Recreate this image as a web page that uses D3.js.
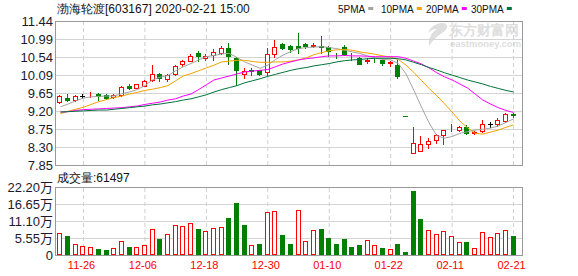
<!DOCTYPE html>
<html lang="zh">
<head>
<meta charset="UTF-8">
<title>渤海轮渡 K线</title>
<script src="https://cdn.jsdelivr.net/npm/d3@7"></script>
<style>
    body { margin: 0; background: #fff; }
    svg { display: block; }
    text { font-family: "Liberation Sans", Arial, sans-serif; }
    .grid line { stroke: #d4d4d4; }
    .grid path, .labels path, .vgrid path { display: none; }
    .vgrid line { stroke: #cfcfcf; stroke-dasharray: 4,3; }
</style>
</head>
<body>
<script>
const width = 578
const height = 276

// trading days shown
const dates = ["11-21","11-22","11-25","11-26","11-27","11-28","11-29",
    "12-02","12-03","12-04","12-05","12-06","12-09","12-10","12-11","12-12","12-13",
    "12-16","12-17","12-18","12-19","12-20","12-23","12-24","12-25","12-26","12-27","12-30","12-31",
    "01-02","01-03","01-06","01-07","01-08","01-09","01-10","01-13","01-14","01-15","01-16","01-17",
    "01-20","01-21","01-22","01-23",
    "02-03","02-04","02-05","02-06","02-07","02-10","02-11","02-12","02-13","02-14",
    "02-17","02-18","02-19","02-20","02-21"]

const open  = [9.41,9.53,9.48,9.57,9.57,9.63,9.59,9.55,9.59,9.82,9.78,9.82,9.97,10.12,9.99,10.11,10.38,10.45,10.65,10.51,
    10.59,10.65,10.76,10.51,10.13,10.23,10.22,10.16,10.61,10.86,10.82,10.82,10.87,10.81,10.82,10.78,10.64,10.78,10.62,10.53,
    10.45,10.50,10.47,10.39,10.34,9.06,8.15,8.19,8.38,8.47,8.59,8.77,8.72,8.80,8.66,8.69,8.86,8.86,8.94,9.11]
const high  = [9.60,9.63,9.59,9.63,9.67,9.64,9.63,9.62,9.82,9.87,9.88,9.96,10.34,10.15,10.12,10.34,10.48,10.62,10.70,10.61,
    10.74,10.82,10.88,10.55,10.27,10.26,10.23,10.77,10.97,10.90,10.83,11.15,10.90,10.90,11.07,10.82,10.65,10.85,10.63,10.55,
    10.51,10.52,10.48,10.44,10.47,9.06,8.80,8.57,8.52,8.63,8.73,8.86,8.82,8.84,8.69,8.97,8.92,9.01,9.15,9.15]
const low   = [9.40,9.44,9.45,9.53,9.55,9.48,9.50,9.53,9.58,9.74,9.76,9.81,9.94,9.94,9.95,10.09,10.32,10.44,10.45,10.48,
    10.48,10.62,10.37,9.84,10.02,10.09,10.09,10.09,10.55,10.73,10.66,10.63,10.77,10.80,10.63,10.57,10.51,10.59,10.48,10.37,
    10.40,10.42,10.34,10.32,10.02,9.06,8.15,8.19,8.27,8.40,8.38,8.70,8.70,8.63,8.63,8.67,8.80,8.82,8.92,9.05]
const close = [9.57,9.47,9.57,9.57,9.58,9.56,9.53,9.59,9.80,9.78,9.86,9.94,10.11,10.02,10.09,10.32,10.44,10.57,10.56,10.57,
    10.67,10.77,10.57,10.22,10.19,10.20,10.12,10.61,10.78,10.77,10.74,10.77,10.82,10.84,10.80,10.68,10.63,10.62,10.61,10.38,
    10.48,10.49,10.40,10.41,10.07,9.06,8.41,8.38,8.44,8.59,8.73,8.76,8.80,8.65,8.67,8.86,8.86,8.97,9.13,9.10]
const prevClose = 9.45

// 成交量 (手)
const volume = [71000,62000,35000,28000,25000,20000,15000,22000,47000,26000,25000,32000,84000,52000,68000,97000,94000,103000,85000,78000,
    87000,91000,122000,170000,98000,33000,36000,139000,143000,65000,36000,147000,46000,82000,85000,57000,36000,52000,27000,33000,
    48000,33000,23000,19000,36000,10000,210000,119000,81000,68000,77000,62000,41000,42000,22000,74000,59000,71000,81000,61497]

const ma5  = [9.30,9.37,9.45,9.52,9.55,9.56,9.57,9.57,9.63,9.67,9.73,9.83,9.97,10.04,10.08,10.20,10.30,10.38,10.47,10.55,
    10.58,10.62,10.63,10.53,10.42,10.34,10.26,10.34,10.48,10.59,10.68,10.75,10.78,10.79,10.80,10.78,10.75,10.71,10.67,10.63,
    10.57,10.52,10.48,10.47,10.38,10.12,9.72,9.30,8.90,8.58,8.52,8.56,8.64,8.68,8.72,8.74,8.77,8.82,8.91,9.00]
const ma10 = [9.13,9.19,9.24,9.29,9.36,9.43,9.48,9.53,9.57,9.62,9.66,9.71,9.74,9.78,9.83,9.95,10.07,10.13,10.20,10.27,
    10.34,10.42,10.44,10.46,10.46,10.43,10.41,10.41,10.42,10.42,10.44,10.47,10.52,10.60,10.65,10.70,10.72,10.73,10.71,10.67,
    10.64,10.61,10.57,10.54,10.48,10.34,10.16,9.96,9.76,9.58,9.38,9.17,8.95,8.78,8.64,8.62,8.67,8.72,8.79,8.85]
const ma20 = [9.17,9.18,9.21,9.23,9.24,9.25,9.26,9.27,9.28,9.30,9.32,9.36,9.39,9.42,9.47,9.50,9.57,9.62,9.73,9.85,
    9.97,10.02,10.07,10.12,10.17,10.19,10.21,10.23,10.30,10.37,10.42,10.47,10.50,10.52,10.55,10.57,10.57,10.58,10.57,10.57,
    10.56,10.55,10.55,10.55,10.55,10.51,10.44,10.37,10.27,10.15,10.05,9.97,9.87,9.77,9.62,9.47,9.37,9.28,9.21,9.16]
const ma30 = [9.17,9.18,9.19,9.20,9.21,9.22,9.22,9.24,9.26,9.28,9.30,9.32,9.35,9.37,9.40,9.43,9.47,9.50,9.55,9.60,
    9.67,9.73,9.78,9.83,9.90,9.95,10.00,10.06,10.11,10.16,10.21,10.25,10.28,10.32,10.35,10.38,10.42,10.45,10.47,10.48,
    10.50,10.51,10.51,10.51,10.50,10.47,10.41,10.35,10.28,10.22,10.15,10.09,10.03,9.97,9.92,9.87,9.81,9.76,9.71,9.67]

const priceLabels = ["7.85","8.30","8.75","9.20","9.65","10.09","10.54","10.99","11.44"]
const priceRange = [7.85, 11.44]
const volLabels = ["0","5.55万","11.10万","16.65万","22.20万"]
const volMax = 222000
const dateTicks = ["11-26","12-06","12-18","12-30","01-10","01-22","02-11","02-21"]
const maNames = ["5PMA","10PMA","20PMA","30PMA"]

const UP = "#ff0000", DOWN = "#008000", FLAT = "#000000"
const maColors = ["#a3a3a3","#f4a300","#ff00ff","#00733a"]

const rows = dates.map((d,i)=>({
    date: d, o: open[i], h: high[i], l: low[i], c: close[i], v: volume[i],
    pc: i ? close[i-1] : prevClose
}))

const left = 55, right = 522
const pTop = 21, pBottom = 165
const vTop = 187, vBottom = 255

const svg = d3.select("body").append("svg")
    .attr("width", width).attr("height", height)

const x = d3.scaleBand().domain(dates)
    .range([56.6, 517.4]).paddingInner(0.35).paddingOuter(0.175)
const cx = d => x(d) + x.bandwidth()/2
const y = d3.scaleLinear().domain(priceRange).range([pBottom, pTop])
const vy = d3.scaleLinear().domain([0, volMax]).range([vBottom, vTop])

const priceVals = d3.range(priceLabels.length).map(i => priceRange[0] + i*(priceRange[1]-priceRange[0])/(priceLabels.length-1))
const volVals = d3.range(volLabels.length).map(i => i*volMax/(volLabels.length-1))

// watermark
const wm = svg.append("g").attr("fill", "#dedede")
wm.append("path")
    .attr("d", "M441,23 C449,22 449,29 442,33 C437,36 433,40 429,46 C428,39 431,33 437,29 C433,29 430,31 428,33 C430,27 435,24 441,23 Z")
wm.append("text").attr("x", 449).attr("y", 35)
    .attr("font-family", "Noto Sans CJK SC").attr("font-size", 13.5).attr("font-weight", "bold")
    .text("东方财富网")
wm.append("text").attr("x", 450).attr("y", 47)
    .attr("font-size", 9.5).attr("font-weight", "bold")
    .text("eastmoney.com")

// grids
svg.append("g").attr("class","grid").attr("transform",`translate(${left},0)`)
    .call(d3.axisLeft(y).tickValues(priceVals).tickSize(-(right-left)).tickFormat(""))
svg.append("g").attr("class","grid").attr("transform",`translate(${left},0)`)
    .call(d3.axisLeft(vy).tickValues(volVals).tickSize(-(right-left)).tickFormat(""))
svg.append("g").attr("class","vgrid").attr("transform",`translate(0,${pBottom})`)
    .call(d3.axisBottom(x).tickValues(dateTicks).tickSize(-(pBottom-pTop)).tickFormat(""))
svg.append("g").attr("class","vgrid").attr("transform",`translate(0,${vBottom})`)
    .call(d3.axisBottom(x).tickValues(dateTicks).tickSize(-(vBottom-vTop)).tickFormat(""))

// axis labels
const yAxis = svg.append("g").attr("class","labels").attr("transform",`translate(${left},0)`)
    .call(d3.axisLeft(y).tickValues(priceVals).tickSize(0).tickPadding(2).tickFormat((d,i)=>priceLabels[i]))
const vAxis = svg.append("g").attr("class","labels").attr("transform",`translate(${left},0)`)
    .call(d3.axisLeft(vy).tickValues(volVals).tickSize(0).tickPadding(2).tickFormat((d,i)=>volLabels[i]))
;[yAxis, vAxis].forEach(g => g.selectAll("text")
    .attr("font-size", 13).attr("fill", "#1a1a2e").style("font-family", "Liberation Sans, Arial, Noto Sans CJK SC"))

const xAxis = svg.append("g").attr("class","labels").attr("transform",`translate(-2,${vBottom})`)
    .call(d3.axisBottom(x).tickValues(dateTicks).tickSize(0).tickPadding(6))
xAxis.selectAll("text").attr("font-size", 11).attr("fill", "#ff0000")

// panel borders
svg.append("rect").attr("x", left+0.5).attr("y", pTop+0.5)
    .attr("width", right-left).attr("height", pBottom-pTop)
    .attr("fill","none").attr("stroke","#999")
svg.append("rect").attr("x", left+0.5).attr("y", vTop+0.5)
    .attr("width", right-left).attr("height", vBottom-vTop)
    .attr("fill","none").attr("stroke","#999")

const candleColor = r => r.c > r.o ? UP : r.c < r.o ? DOWN : (r.c > r.pc ? UP : r.c < r.pc ? DOWN : FLAT)
const volColor = r => r.c >= r.pc ? UP : DOWN
const px = r => Math.floor(cx(r.date) - 2.5)   // left pixel of body
const snap = v => Math.round(v) + 0.5

// candles
const gC = svg.append("g")
gC.selectAll(".wick").data(rows).enter().append("line")
    .attr("x1", r => px(r)+2.5).attr("x2", r => px(r)+2.5)
    .attr("y1", r => Math.round(y(r.h))).attr("y2", r => Math.round(y(r.l))+1)
    .attr("stroke", candleColor)
gC.selectAll(".body").data(rows.filter(r => r.c !== r.o)).enter().append("rect")
    .attr("x", r => px(r)+0.5).attr("width", 4)
    .attr("y", r => snap(y(Math.max(r.o,r.c))))
    .attr("height", r => Math.max(0, Math.round(y(Math.min(r.o,r.c))) - Math.round(y(Math.max(r.o,r.c)))))
    .attr("fill", r => r.c > r.o ? "#fff" : DOWN)
    .attr("stroke", candleColor)
gC.selectAll(".flat").data(rows.filter(r => r.c === r.o)).enter().append("line")
    .attr("x1", r => px(r)).attr("x2", r => px(r)+5)
    .attr("y1", r => snap(y(r.c))).attr("y2", r => snap(y(r.c)))
    .attr("stroke", candleColor)

// moving averages
const line = d3.line().x((d,i) => cx(dates[i])).y(d => y(d))
;[ma5, ma10, ma20, ma30].forEach((s,k) => {
    svg.append("path").datum(s).attr("d", line)
        .attr("fill","none").attr("stroke", maColors[k]).attr("stroke-width", 1)
})

// volume bars
svg.append("g").selectAll("rect").data(rows).enter().append("rect")
    .attr("x", r => px(r)+0.5).attr("width", 4)
    .attr("y", r => snap(vy(r.v)))
    .attr("height", r => vBottom - Math.round(vy(r.v)) - 1)
    .attr("fill", r => volColor(r) === UP ? "#fff" : DOWN)
    .attr("stroke", volColor)

// title and legend
svg.append("text").attr("x", 57).attr("y", 13)
    .attr("font-family", "Noto Sans CJK SC").attr("font-size", 12).attr("fill", "#111")
    .text("渤海轮渡[603167] 2020-02-21 15:00")

const legendX = [338, 381, 426, 471]
maNames.forEach((n,k) => {
    const t = svg.append("text").attr("x", legendX[k]).attr("y", 13)
        .attr("font-family", "Liberation Mono, monospace").attr("font-size", 10).attr("fill", "#111")
        .text(n)
    const w = t.node().getComputedTextLength()
    svg.append("rect").attr("x", legendX[k] + w + 3).attr("y", 7)
        .attr("width", 5).attr("height", 3).attr("fill", maColors[k])
})

svg.append("text").attr("x", 57).attr("y", 182)
    .attr("font-family", "Noto Sans CJK SC").attr("font-size", 12).attr("fill", "#111")
    .text("成交量:" + volume[volume.length-1])
</script>
</body>
</html>
